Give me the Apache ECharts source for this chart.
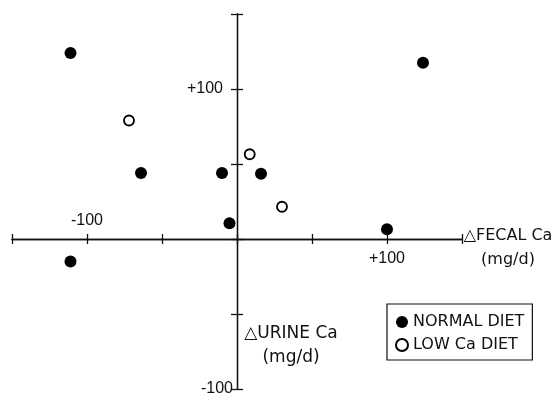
<!DOCTYPE html>
<html><head><meta charset="utf-8">
<script src="https://cdn.jsdelivr.net/npm/echarts@6/dist/echarts.min.js"></script>
<style>html,body{margin:0;padding:0;background:#fff}#c{width:554px;height:399px}</style>
</head><body><div id="c"></div>
<script>
const normalDiet = [[-111,124],[-64,44],[-10,44],[16,43.5],[-5,10.5],[-111,-15],[124,117.5],[100,6.5]];
const lowCaDiet = [[-72,79],[8.5,56.5],[30,21.5]];
const xRange = [-150,150];
const yRange = [-100,150];
const tickStep = 50;
const xLabels = {'100':'+100','-100':'-100'};
const yLabels = {'100':'+100','-100':'-100'};
const seriesNames = ['NORMAL DIET','LOW Ca DIET'];
const xTitle = '△FECAL Ca\n(mg/d)';
const yTitle = '△URINE Ca\n(mg/d)';

const lab = "'Liberation Sans',Arial,sans-serif";
const txt = "'DejaVu Sans',sans-serif";
const ink = '#111';
const lineStyle = {color:ink, width:1.3};

// plot area geometry
const L = 12, T = 14, W = 450, H = 375;
const zeroX = L + W * (0 - xRange[0]) / (xRange[1] - xRange[0]);
const zeroY = T + H * (yRange[1] - 0) / (yRange[1] - yRange[0]);

function hidden(dimRange){ return {type:'value', show:false, min:dimRange[0], max:dimRange[1], splitLine:{show:false}}; }
function xTickAxis(gridIndex, pos, showVal, margin){
  return {type:'value', gridIndex, position:pos, min:xRange[0], max:xRange[1], interval:tickStep,
    splitLine:{show:false},
    axisLine:{show:true, onZero:false, lineStyle},
    axisTick:{show:true, length:5, lineStyle},
    axisLabel:{show:true, margin, fontFamily:lab, fontSize:16, color:ink, hideOverlap:false,
      showMinLabel:true, showMaxLabel:true,
      formatter:v => (v===showVal ? xLabels[String(v)] : '')}};
}
function yTickAxis(gridIndex, pos, showLabels){
  return {type:'value', gridIndex, position:pos, min:yRange[0], max:yRange[1], interval:tickStep,
    splitLine:{show:false},
    axisLine:{show:true, onZero:false, lineStyle},
    axisTick:{show:true, length:6, lineStyle},
    axisLabel:{show:showLabels, margin:4, fontFamily:lab, fontSize:16, color:ink, hideOverlap:false,
      showMinLabel:true, showMaxLabel:true,
      formatter:v => v===100 ? '{p|'+yLabels['100']+'}' : (v===-100 ? yLabels['-100'] : ''),
      rich:{p:{padding:[0,10,0,0], fontFamily:lab, fontSize:16, color:ink}}}};
}

const chart = echarts.init(document.getElementById('c'));
chart.setOption({
  animation:false,
  backgroundColor:'#fff',
  grid:[
    {left:L, top:T, width:W, height:H, outerBoundsMode:'none', containLabel:false},           // data
    {left:L, top:T, width:W, height:zeroY - T, outerBoundsMode:'none', containLabel:false},   // upper half: x axis at bottom
    {left:L, top:zeroY, width:W, height:T + H - zeroY, outerBoundsMode:'none', containLabel:false}, // lower half: x axis at top
    {left:L, top:T, width:zeroX - L, height:H, outerBoundsMode:'none', containLabel:false},   // left half: y axis at right
    {left:zeroX, top:T, width:L + W - zeroX, height:H, outerBoundsMode:'none', containLabel:false} // right half: y axis at left
  ],
  xAxis:[
    Object.assign(hidden(xRange), {gridIndex:0}),
    xTickAxis(1, 'bottom', 100, 12),
    xTickAxis(2, 'top', -100, 10),
    Object.assign(hidden(xRange), {gridIndex:3}),
    Object.assign(hidden(xRange), {gridIndex:4})
  ],
  yAxis:[
    Object.assign(hidden(yRange), {gridIndex:0}),
    Object.assign(hidden(yRange), {gridIndex:1}),
    Object.assign(hidden(yRange), {gridIndex:2}),
    yTickAxis(3, 'right', false),
    yTickAxis(4, 'left', true)
  ],
  legend:{left:387, top:304, orient:'vertical', borderColor:ink, borderWidth:1.2,
    padding:[10,8,7,8], itemGap:7, itemWidth:12, itemHeight:12, icon:'circle',
    textStyle:{fontFamily:txt, fontSize:16, color:ink},
    data:seriesNames},
  graphic:[
    {type:'text', x:508, y:223.5, style:{text:xTitle, fontFamily:txt, fontSize:16, fill:ink, align:'center', lineHeight:24}},
    {type:'text', x:291, y:321.5, style:{text:yTitle, fontFamily:txt, fontSize:17, fill:ink, align:'center', lineHeight:24}}
  ],
  series:[
    {name:seriesNames[0], type:'scatter', xAxisIndex:0, yAxisIndex:0, data:normalDiet, symbol:'circle', symbolSize:12,
      itemStyle:{color:'#000', opacity:1}},
    {name:seriesNames[1], type:'scatter', xAxisIndex:0, yAxisIndex:0, data:lowCaDiet, symbol:'circle', symbolSize:10,
      itemStyle:{color:'#fff', borderColor:'#000', borderWidth:1.8, opacity:1}}
  ]
});
</script></body></html>
